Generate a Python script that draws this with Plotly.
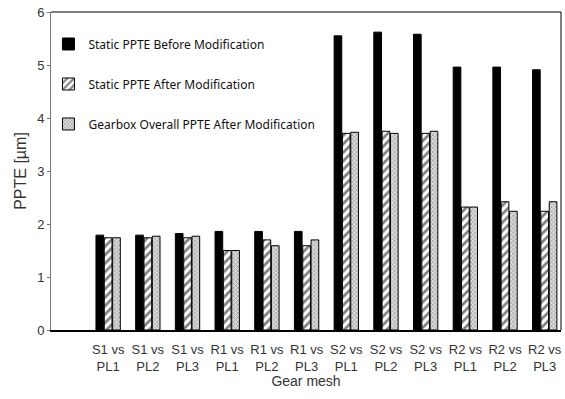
import plotly.graph_objects as go

categories = ["S1 vs<br>PL1", "S1 vs<br>PL2", "S1 vs<br>PL3", "R1 vs<br>PL1", "R1 vs<br>PL2", "R1 vs<br>PL3",
              "S2 vs<br>PL1", "S2 vs<br>PL2", "S2 vs<br>PL3", "R2 vs<br>PL1", "R2 vs<br>PL2", "R2 vs<br>PL3"]
static_before = [1.79, 1.79, 1.82, 1.86, 1.86, 1.86, 5.55, 5.62, 5.58, 4.96, 4.96, 4.91]
static_after = [1.74, 1.74, 1.74, 1.50, 1.70, 1.59, 3.71, 3.75, 3.71, 2.32, 2.42, 2.24]
gearbox_after = [1.74, 1.77, 1.77, 1.50, 1.59, 1.70, 3.73, 3.71, 3.75, 2.32, 2.24, 2.42]
names = ["Static PPTE Before Modification", "Static PPTE After Modification",
         "Gearbox Overall PPTE After Modification"]

fig = go.Figure()
fig.add_trace(go.Bar(x=categories, y=static_before, name=names[0], legendgroup="a",
                     marker=dict(color="black", line=dict(color="black", width=1))))
fig.add_trace(go.Bar(x=categories, y=static_after, name=names[1], legendgroup="b",
                     marker=dict(color="white", line=dict(color="black", width=1),
                                 pattern=dict(shape="/", fgcolor="black", bgcolor="white",
                                              size=6, solidity=0.45))))
fig.add_trace(go.Bar(x=categories, y=gearbox_after, name=names[2], legendgroup="c",
                     marker=dict(color="#c8c8c8", line=dict(color="black", width=1),
                                 pattern=dict(shape="x", fgcolor="#555555", bgcolor="#dddddd",
                                              size=3, solidity=0.4))))

fig.update_layout(
    width=565, height=399,
    margin=dict(l=51, r=4, t=12, b=69),
    paper_bgcolor="white", plot_bgcolor="white",
    barmode="group", bargap=0.37, bargroupgap=0.08,
    font=dict(family="Liberation Sans, Arial", size=13, color="#333333"),
    legend=dict(x=-0.005, y=0.945, xanchor="left", yanchor="top",
                font=dict(family="Noto Sans", size=12, color="#111111"),
                bgcolor="rgba(0,0,0,0)", tracegroupgap=21, traceorder="grouped",
                itemwidth=30),
    showlegend=True,
)
fig.update_xaxes(type="category", range=[-1.44, 11.41], showline=True, linecolor="black",
                 linewidth=2, mirror=False, ticks="", showgrid=False, ticklabelstandoff=6,
                 title=dict(text="Gear mesh", standoff=4, font=dict(size=14)),
                 tickfont=dict(size=13))
fig.update_yaxes(range=[0, 6], dtick=1, showline=True, linecolor="#777777", linewidth=1,
                 mirror=False, ticks="outside", ticklen=3, tickcolor="#777777", showgrid=False,
                 title=dict(text="PPTE [µm]", standoff=6, font=dict(size=16)),
                 tickfont=dict(size=13), zeroline=False)
# frame top and right
fig.add_shape(type="line", xref="paper", yref="paper", x0=0, x1=1, y0=1, y1=1,
              line=dict(color="black", width=1))
fig.add_shape(type="line", xref="paper", yref="paper", x0=1, x1=1, y0=0, y1=1,
              line=dict(color="black", width=1))

fig.write_html("out.html")
